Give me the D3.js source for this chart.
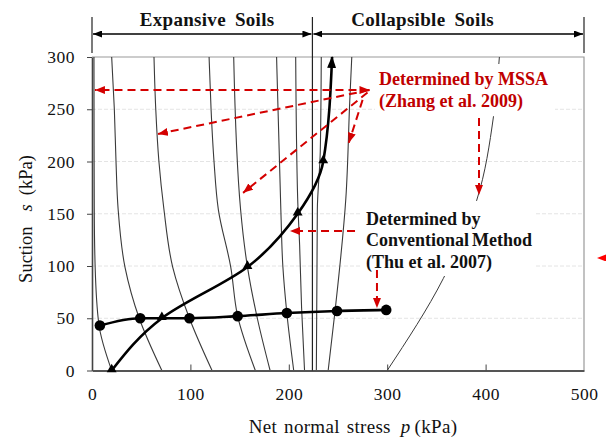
<!DOCTYPE html>
<html>
<head>
<meta charset="utf-8">
<script src="https://cdn.jsdelivr.net/npm/d3@7"></script>
<style>
  body { margin: 0; background: #fff; }
  svg { display: block; }
  text { font-family: "Liberation Serif", "Times New Roman", serif; }
</style>
</head>
<body>
<svg id="chart" width="612" height="439"></svg>
<script>
// ---- data -------------------------------------------------------------
const pTicks = [0, 100, 200, 300, 400, 500];
const sTicks = [0, 50, 100, 150, 200, 250, 300];

// Yield points determined by the conventional method (Thu et al. 2007)
const convP = [8, 49, 99, 148, 198, 249, 299];
const convS = [43, 50, 50, 52, 55, 57, 58];

// Yield points determined by MSSA (Zhang et al. 2009)
const mssaP = [20, 71, 158, 209, 235];
const mssaS = [0, 50, 99, 150, 200];
const mssaEnd = [244, 300];

// Yield curves, listed from high suction to zero suction
const yieldCurves = [
  [[2, 300], [2.3, 155], [3.2, 99], [7, 44], [20, 0]],
  [[20, 300], [22.7, 250], [24.4, 200], [26.5, 155], [33.5, 99], [48, 50], [71, 0]],
  [[63, 300], [64.8, 250], [68, 200], [73, 155], [82, 99], [99, 50], [122, 0]],
  [[119, 300], [121, 250], [124, 200], [128.4, 154], [141, 99], [148, 52], [166, 0]],
  [[144, 300], [151, 154], [158, 99], [168, 50], [181, 0]],
  [[187.6, 300], [191.9, 154], [194, 99], [198, 55], [205, 0]],
  [[207, 300], [209, 165], [211, 120], [213, 60], [216, 0]],
  [[233, 300], [232, 210], [229, 154], [228, 0]],
  [[264, 300], [262, 259], [258, 165], [247, 57], [240, 0]]
];
const collapseCurve = [[414, 300], [408, 243], [391, 163], [357, 88], [300, 0]];

// Soil zones along the net normal stress axis
const zoneNames = ["Expansive Soils", "Collapsible Soils"];
const zoneBounds = [0, 224, 500];
const zoneLabelP = [117, 336];

// Annotation arrows [p0, s0, p1, s1]
const mssaArrows = [
  [282, 268.4, 3, 268.4],
  [282, 268.4, 67, 226.3],
  [280, 266, 153.5, 170],
  [275, 259, 261, 218],
  [393.3, 241.6, 393.3, 168]
];
const convArrows = [
  [267.3, 133.5, 201.2, 133.5],
  [289.6, 96.2, 289.6, 59.8]
];
const edgeArrow = [521.5, 107.7, 513.2, 107.7];

// ---- layout -----------------------------------------------------------
const svg = d3.select("#chart");
const x = d3.scaleLinear().domain([0, 500]).range([92, 584]);
const y = d3.scaleLinear().domain([0, 300]).range([370.5, 57]);
const RED = "#d40000";

const defs = svg.append("defs");
function marker(id, color, w, h) {
  defs.append("marker")
    .attr("id", id).attr("markerUnits", "userSpaceOnUse")
    .attr("viewBox", `0 0 ${w} ${h}`).attr("refX", w).attr("refY", h / 2)
    .attr("markerWidth", w).attr("markerHeight", h)
    .attr("orient", "auto-start-reverse")
    .append("path").attr("d", `M0,0L${w},${h / 2}L0,${h}Z`).attr("fill", color);
}
marker("redHead", RED, 10, 8);
marker("edgeHead", "#ff0000", 9, 7);
marker("blackHead", "#000", 9, 7);
marker("topHead", "#000", 12, 9);

// gridlines
svg.append("g").selectAll("line").data(sTicks.filter(d => d > 0 && d < 300)).join("line")
  .attr("x1", x(0)).attr("x2", x(500)).attr("y1", d => y(d)).attr("y2", d => y(d))
  .attr("stroke", "#e4e4e4").attr("stroke-width", 1).attr("stroke-dasharray", "4,2");

// frame (top and right)
svg.append("path")
  .attr("d", `M${x(0)},${y(300)}H${x(500)}V${y(0)}`)
  .attr("fill", "none").attr("stroke", "#9a9a9a").attr("stroke-width", 1.2);

// thin yield curves
const vLine = d3.line().x(d => x(d[0])).y(d => y(d[1])).curve(d3.curveMonotoneY);
svg.append("g").selectAll("path").data(yieldCurves).join("path")
  .attr("d", vLine).attr("fill", "none").attr("stroke", "#3a3a3a").attr("stroke-width", 1.1);
svg.append("path").attr("d", vLine(collapseCurve))
  .attr("fill", "none").attr("stroke", "#3a3a3a").attr("stroke-width", 1);

// axes
const yAxis = svg.append("g").attr("transform", `translate(${x(0)},0)`)
  .call(d3.axisLeft(y).tickValues(sTicks).tickSize(5).tickSizeOuter(0).tickPadding(12));
yAxis.select(".domain").attr("stroke", "#444").attr("stroke-width", 1.6);
yAxis.selectAll(".tick line").attr("stroke", "#444");
yAxis.selectAll(".tick text").attr("font-size", 17.5).attr("fill", "#111")
  .attr("font-family", "Liberation Serif, serif").attr("letter-spacing", 0.5);

const xAxis = svg.append("g").attr("transform", `translate(0,${y(0)})`)
  .call(d3.axisBottom(x).tickValues(pTicks).tickSize(0).tickPadding(17));
xAxis.select(".domain").attr("stroke", "#555").attr("stroke-width", 2.2);
xAxis.selectAll(".tick text").attr("font-size", 17.5).attr("fill", "#111")
  .attr("font-family", "Liberation Serif, serif").attr("letter-spacing", 0.5);
xAxis.selectAll(".tick line").filter(d => d > 0 && d < 500)
  .attr("y2", -6).attr("stroke", "#444");

// axis titles
const yTitle = svg.append("text").attr("transform", "translate(32,219) rotate(-90)")
  .attr("text-anchor", "middle").attr("font-size", 18.5).attr("fill", "#111");
yTitle.append("tspan").text("Suction");
yTitle.append("tspan").attr("dx", 15).attr("font-style", "italic").text("s");
yTitle.append("tspan").attr("dx", 9).text("(kPa)");

const xTitle = svg.append("text").attr("x", 353).attr("y", 433)
  .attr("text-anchor", "middle").attr("font-size", 19).attr("fill", "#111")
  .attr("word-spacing", 2).attr("letter-spacing", 0.3);
xTitle.append("tspan").text("Net normal stress");
xTitle.append("tspan").attr("dx", 10).attr("font-style", "italic").text("p");
xTitle.append("tspan").attr("dx", 4).text("(kPa)");

// soil zone header: boundaries, span arrows and names
const hdr = svg.append("g");
hdr.selectAll("line.bar").data(zoneBounds).join("line").attr("class", "bar")
  .attr("x1", d => x(d)).attr("x2", d => x(d))
  .attr("y1", 17).attr("y2", d => (d === 224 ? y(0) : 53))
  .attr("stroke", "#222").attr("stroke-width", 1.2);
hdr.selectAll("line.span").data(zoneNames).join("line").attr("class", "span")
  .attr("x1", (d, i) => x(zoneBounds[i]) + 1).attr("x2", (d, i) => x(zoneBounds[i + 1]) - 1)
  .attr("y1", 34).attr("y2", 34)
  .attr("stroke", "#000").attr("stroke-width", 1.5)
  .attr("marker-start", "url(#blackHead)").attr("marker-end", "url(#blackHead)");
hdr.selectAll("text").data(zoneNames).join("text")
  .attr("x", (d, i) => x(zoneLabelP[i]))
  .attr("y", 26).attr("text-anchor", "middle")
  .attr("font-size", 19).attr("font-weight", "bold").attr("word-spacing", 4)
  .attr("letter-spacing", 0.3)
  .attr("fill", "#111").text(d => d);

// label boxes mask the collapse curve behind the notes
svg.append("rect").attr("x", 375).attr("y", 64).attr("width", 180).attr("height", 52).attr("fill", "#fff");
svg.append("rect").attr("x", 362).attr("y", 201).attr("width", 174).attr("height", 75).attr("fill", "#fff");

// conventional method line
svg.append("path")
  .attr("d", d3.line().x(d => x(d[0])).y(d => y(d[1])).curve(d3.curveMonotoneX)(convP.map((p, i) => [p, convS[i]])))
  .attr("fill", "none").attr("stroke", "#000").attr("stroke-width", 2.6);

// MSSA line with end arrow
const mssaPts = mssaP.map((p, i) => [p, mssaS[i]]).concat([mssaEnd]).reverse();
svg.append("path").attr("d", vLine(mssaPts))
  .attr("fill", "none").attr("stroke", "#000").attr("stroke-width", 2.6);
svg.append("line")
  .attr("x1", x(mssaEnd[0]) - 0.6).attr("y1", y(mssaEnd[1]) + 14)
  .attr("x2", x(mssaEnd[0])).attr("y2", y(mssaEnd[1]) - 1)
  .attr("stroke", "none").attr("marker-end", "url(#topHead)");

// markers
svg.append("g").selectAll("circle").data(convP).join("circle")
  .attr("cx", d => x(d)).attr("cy", (d, i) => y(convS[i])).attr("r", 5.3).attr("fill", "#000");
svg.append("g").selectAll("path").data(mssaP).join("path")
  .attr("transform", (d, i) => `translate(${x(d)},${y(mssaS[i]) - 1})`)
  .attr("d", d3.symbol(d3.symbolTriangle, 42)).attr("fill", "#000");

// annotation arrows
function dashArrow(g, a, color, start) {
  g.append("line")
    .attr("x1", x(a[0])).attr("y1", y(a[1])).attr("x2", x(a[2])).attr("y2", y(a[3]))
    .attr("stroke", color).attr("stroke-width", 2).attr("stroke-dasharray", "8,5")
    .attr("marker-end", "url(#redHead)")
    .attr("marker-start", start ? "url(#redHead)" : null);
}
const ann = svg.append("g");
mssaArrows.forEach((a, i) => dashArrow(ann, a, RED, i === 0));
convArrows.forEach(a => dashArrow(ann, a, RED, false));
ann.append("line")
  .attr("x1", x(edgeArrow[0])).attr("y1", y(edgeArrow[1])).attr("x2", x(edgeArrow[2])).attr("y2", y(edgeArrow[3]))
  .attr("stroke", "none").attr("marker-end", "url(#edgeHead)");

// notes
const note1 = svg.append("text").attr("font-size", 18).attr("font-weight", "bold")
  .attr("fill", "#c00000");
note1.append("tspan").attr("x", 379).attr("y", 85).text("Determined by MSSA");
note1.append("tspan").attr("x", 379).attr("y", 107).text("(Zhang et al. 2009)");

const note2 = svg.append("text").attr("font-size", 18).attr("font-weight", "bold").attr("fill", "#111");
note2.append("tspan").attr("x", 366).attr("y", 225).text("Determined by");
note2.append("tspan").attr("x", 366).attr("y", 246).attr("word-spacing", -1.5).text("Conventional Method");
note2.append("tspan").attr("x", 366).attr("y", 268).text("(Thu et al. 2007)");
</script>
</body>
</html>
